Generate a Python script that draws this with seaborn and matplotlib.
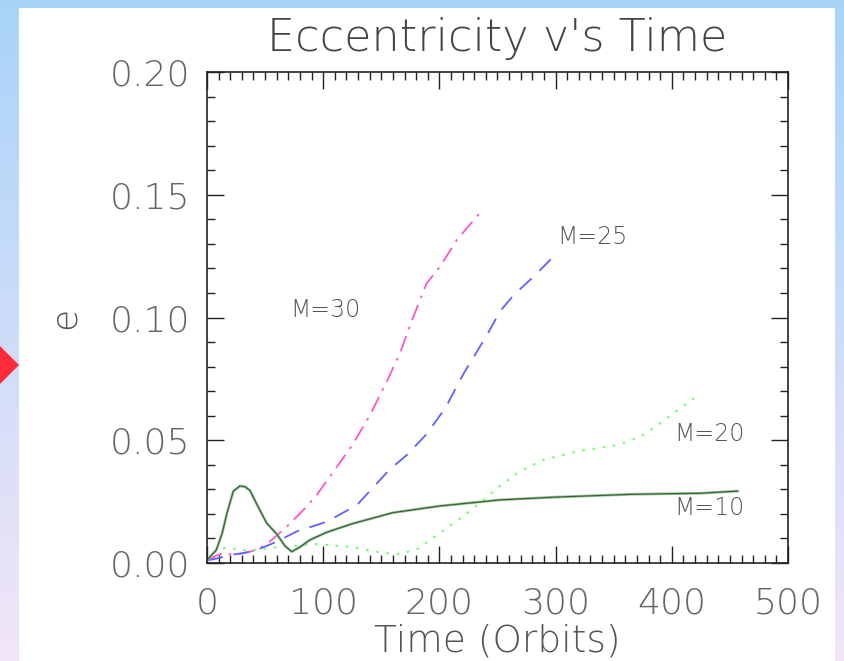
import numpy as np
import pandas as pd
import matplotlib
matplotlib.use("Agg")
import matplotlib.pyplot as plt
import seaborn as sns
from matplotlib.patches import Rectangle, Polygon
from matplotlib.ticker import MultipleLocator

# ---- data ----
m10_t = [0, 8, 13, 17, 22.6, 28.4, 33, 37, 44, 51.4, 60, 67, 72.9, 80, 88.6, 103, 125, 160, 200, 252, 298, 366, 424, 457]
m10_e = [0.0012, 0.0053, 0.012, 0.020, 0.0292, 0.0314, 0.0310, 0.0295, 0.0229, 0.0162, 0.0118, 0.0070, 0.0046, 0.0065, 0.0094, 0.0125, 0.0160, 0.0205, 0.0232, 0.0257, 0.0268, 0.0280, 0.0284, 0.0293]

m20_t = [0, 8, 17, 28, 40, 60, 94, 123, 146, 163, 180, 200, 218, 238, 252, 269, 289, 321, 353, 373, 390, 407, 423]
m20_e = [0.001, 0.005, 0.0064, 0.0053, 0.0053, 0.0064, 0.0077, 0.0066, 0.0046, 0.0035, 0.0053, 0.0121, 0.0182, 0.0257, 0.0314, 0.0372, 0.042, 0.0457, 0.048, 0.0514, 0.0569, 0.063, 0.0684]

m25_t = [0, 10, 20, 31, 43, 60, 77, 103, 129, 157, 172, 188, 205, 221, 241, 252, 264, 281, 297.5]
m25_e = [0.001, 0.002, 0.0033, 0.004, 0.0053, 0.0087, 0.0128, 0.0168, 0.0236, 0.038, 0.044, 0.052, 0.063, 0.0773, 0.0929, 0.1024, 0.1092, 0.1166, 0.1245]

m30_t = [0, 8, 14, 22.6, 31, 43, 54, 68.6, 83, 94.4, 110, 125, 140, 156, 166, 177.6, 189, 200.5, 215, 237]
m30_e = [0.001, 0.003, 0.004, 0.0033, 0.004, 0.0053, 0.0087, 0.0148, 0.0216, 0.0277, 0.038, 0.048, 0.060, 0.0752, 0.0854, 0.1003, 0.1139, 0.1207, 0.1316, 0.1438]

labels = ["M=30", "M=25", "M=20", "M=10"]
label_x = [102, 332, 432, 432]
label_y = [0.103, 0.1328, 0.0525, 0.0224]

title = "Eccentricity v's Time"
xlabel = "Time (Orbits)"
ylabel = "e"
xticks = [0, 100, 200, 300, 400, 500]
yticks = [0.00, 0.05, 0.10, 0.15, 0.20]

# ---- figure ----
sns.set_theme(style="white")
plt.rcParams['font.family'] = ['DejaVu Sans']

W, H = 845, 661
fig = plt.figure(figsize=(W / 100, H / 100), dpi=100)

# gradient background
bg = fig.add_axes([0, 0, 1, 1], zorder=-10)
grad = np.linspace(0, 1, 256)[:, None]
top = np.array([0.66, 0.83, 0.98])
bot = np.array([0.95, 0.90, 0.97])
img = top[None, None, :] * (1 - grad[:, :, None]) + bot[None, None, :] * grad[:, :, None]
bg.imshow(img, aspect='auto', extent=[0, 1, 0, 1])
bg.set_xlim(0, 1); bg.set_ylim(0, 1)
bg.axis('off')
bg.add_patch(Rectangle((19 / W, 0), (835 - 19) / W, 1 - 8 / H, facecolor='white', edgecolor='none'))
bg.add_patch(Polygon([(0, 1 - 346 / H), (19 / W, 1 - 365 / H), (0, 1 - 384 / H)],
                     closed=True, facecolor='#ff2a3a', edgecolor='none'))

ax = fig.add_axes([207 / W, 1 - 563 / H, (788 - 207) / W, (563 - 72) / H])
ax.set_facecolor('white')

d10 = pd.DataFrame({"t": m10_t, "e": m10_e})
d20 = pd.DataFrame({"t": m20_t, "e": m20_e})
d25 = pd.DataFrame({"t": m25_t, "e": m25_e})
d30 = pd.DataFrame({"t": m30_t, "e": m30_e})

sns.lineplot(data=d30, x="t", y="e", ax=ax, color='#ff55c8', lw=1.3, sort=False)
ax.lines[-1].set_dashes([9, 4, 1.5, 4])
sns.lineplot(data=d25, x="t", y="e", ax=ax, color='#6060ff', lw=1.3, sort=False)
ax.lines[-1].set_dashes([9, 6])
sns.lineplot(data=d20, x="t", y="e", ax=ax, color='#66ff66', lw=1.4, sort=False)
ax.lines[-1].set_dashes([1.3, 4.0])
sns.lineplot(data=d10, x="t", y="e", ax=ax, color='#a9c4a9', lw=2.0, sort=False)
sns.lineplot(data=d10, x="t", y="e", ax=ax, color='#2f6a2f', lw=0.9, sort=False)

for lab, lx, ly in zip(labels, label_x, label_y):
    ax.text(lx, ly, lab, ha='center', va='center', fontsize=17, color='#555555',
            fontweight='light')

ax.set_xlim(0, 500)
ax.set_ylim(0, 0.20)
ax.set_xticks(xticks)
ax.set_yticks(yticks)
ax.set_xticklabels([str(v) for v in xticks])
ax.set_yticklabels([f"{v:.2f}" for v in yticks])
ax.xaxis.set_minor_locator(MultipleLocator(10))
ax.yaxis.set_minor_locator(MultipleLocator(0.01))
ax.tick_params(which='both', direction='in', top=True, right=True, bottom=True, left=True,
               color='#222222', width=1.0)
ax.tick_params(which='major', length=12)
ax.tick_params(which='minor', length=6)
ax.tick_params(axis='y', which='major', pad=12, labelsize=26, labelcolor='#666666')
ax.tick_params(axis='x', which='major', pad=17, labelsize=26, labelcolor='#666666')
for lab in ax.get_xticklabels() + ax.get_yticklabels():
    lab.set_fontweight('light')
for s in ax.spines.values():
    s.set_color('#222222')
    s.set_linewidth(1.2)
    s.set_visible(True)

ax.set_xlabel("")
ax.set_ylabel("")
fig.text(497 / W, 1 - 641 / H, xlabel, ha='center', va='center', fontsize=27,
         color='#555555', fontweight='light')
fig.text(65 / W, 1 - 318 / H, ylabel, ha='center', va='center', fontsize=26,
         color='#555555', rotation=90, fontweight='light')
fig.text(497 / W, 1 - 39 / H, title, ha='center', va='center', fontsize=32,
         color='#444444', fontweight='light')

fig.savefig("out.png", dpi=100)
